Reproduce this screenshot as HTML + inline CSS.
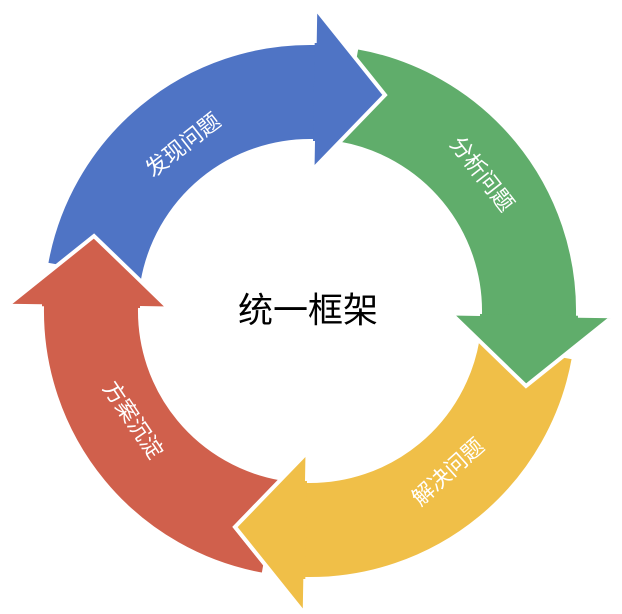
<!DOCTYPE html>
<html><head><meta charset="utf-8"><style>
html,body{margin:0;padding:0;background:#fff;}
svg{display:block;}
text{font-family:"Liberation Sans","Noto Sans CJK SC",sans-serif;}
</style></head><body>
<svg width="622" height="614" viewBox="0 0 622 614" xmlns="http://www.w3.org/2000/svg">
<defs>
<path id="arr" d="M46.1,264.5 A268,268 0 0 1 314.7,43 L315.3,8 L385,95 L312.5,170 L313,141 A170,170 0 0 0 142.6,281.5 Z"/>
<path id="head" d="M314.7,43 L315.3,8 L385,95 L312.5,170 L313,141"/>
</defs>
<g stroke="#fff" stroke-width="4" stroke-linejoin="miter">
<use href="#arr" fill="#d0604c" transform="rotate(270 310 311)"/>
<use href="#arr" fill="#4f74c5"/>
<use href="#arr" fill="#60ad6b" transform="rotate(90 310 311)"/>
<use href="#arr" fill="#f0bf48" transform="rotate(180 310 311)"/>
<use href="#head" fill="#d0604c" transform="rotate(270 310 311)"/>
<use href="#head" fill="#4f74c5"/>
<use href="#head" fill="#60ad6b" transform="rotate(90 310 311)"/>
<use href="#head" fill="#f0bf48" transform="rotate(180 310 311)"/>
</g>
<g fill="#fff" font-size="22" text-anchor="middle" dominant-baseline="central">
<text transform="translate(183,145) rotate(-38)">发现问题</text>
<text transform="translate(482,174) rotate(52)">分析问题</text>
<text transform="translate(448,472) rotate(-42)">解决问题</text>
<text transform="translate(133,420) rotate(56)">方案沉淀</text>
</g>
<text x="308" y="311" font-size="35" text-anchor="middle" dominant-baseline="central" fill="#000">统一框架</text>
</svg>
</body></html>
